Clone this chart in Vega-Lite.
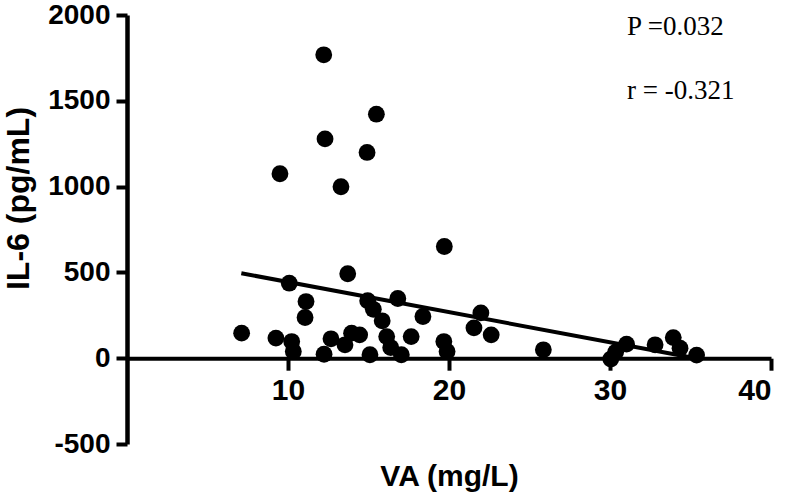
{
  "$schema": "https://vega.github.io/schema/vega-lite/v6.json",
  "width": 644,
  "height": 429,
  "autosize": "none",
  "padding": {"left": 127, "top": 15, "right": 17, "bottom": 48},
  "background": "white",
  "config": {
    "view": {"stroke": null},
    "axis": {"grid": false, "domainColor": "black", "tickColor": "black", "labelColor": "black", "titleColor": "black", "labelFont": "Liberation Sans", "titleFont": "Liberation Sans", "labelFontWeight": "bold", "titleFontWeight": "bold"}
  },
  "datasets": {
    "points": [
      {"va": 7.12, "il6": 146}, {"va": 9.25, "il6": 117}, {"va": 9.5, "il6": 1075},
      {"va": 10.08, "il6": 437}, {"va": 10.23, "il6": 97}, {"va": 10.33, "il6": 39},
      {"va": 11.06, "il6": 237}, {"va": 11.12, "il6": 330}, {"va": 12.22, "il6": 1768},
      {"va": 12.24, "il6": 23}, {"va": 12.3, "il6": 1278}, {"va": 12.67, "il6": 113},
      {"va": 13.29, "il6": 999}, {"va": 13.54, "il6": 78}, {"va": 13.71, "il6": 492},
      {"va": 13.95, "il6": 146}, {"va": 14.45, "il6": 136}, {"va": 14.91, "il6": 1199},
      {"va": 14.95, "il6": 335}, {"va": 15.09, "il6": 20}, {"va": 15.3, "il6": 285},
      {"va": 15.49, "il6": 1422}, {"va": 15.85, "il6": 218}, {"va": 16.13, "il6": 126},
      {"va": 16.38, "il6": 62}, {"va": 16.82, "il6": 348}, {"va": 17.04, "il6": 20},
      {"va": 17.65, "il6": 126}, {"va": 18.38, "il6": 243}, {"va": 19.68, "il6": 97},
      {"va": 19.71, "il6": 651}, {"va": 19.88, "il6": 39}, {"va": 21.55, "il6": 177},
      {"va": 21.98, "il6": 264}, {"va": 22.62, "il6": 136}, {"va": 25.86, "il6": 49},
      {"va": 30.05, "il6": -5}, {"va": 30.35, "il6": 35}, {"va": 31.03, "il6": 82},
      {"va": 32.8, "il6": 78}, {"va": 33.93, "il6": 120}, {"va": 34.35, "il6": 58},
      {"va": 35.38, "il6": 18}
    ],
    "fit": [
      {"va": 7.1, "il6": 495}, {"va": 35.4, "il6": -2}
    ],
    "stats": [
      {"label": "P =0.032", "va": 31.06, "il6": 1886},
      {"label": "r = -0.321", "va": 31.06, "il6": 1513}
    ]
  },
  "layer": [
    {
      "data": {"name": "points"},
      "mark": {"type": "circle", "size": 283, "color": "black", "opacity": 1},
      "encoding": {
        "x": {"field": "va", "type": "quantitative", "scale": {"domain": [0, 40], "nice": false, "zero": false},
          "axis": {"title": "VA (mg/L)", "values": [10, 20, 30, 40], "labelExpr": "datum.value + ''", "offset": -85.8, "domainWidth": 4, "tickWidth": 4, "tickSize": 12, "labelFontSize": 30, "labelPadding": 5, "titleFontSize": 30, "titleY": 127, "titleBaseline": "alphabetic"}},
        "y": {"field": "il6", "type": "quantitative", "scale": {"domain": [-500, 2000], "nice": false, "zero": false},
          "axis": {"title": "IL-6 (pg/mL)", "values": [-500, 0, 500, 1000, 1500, 2000], "labelExpr": "datum.value + ''", "domainWidth": 4.5, "tickWidth": 4, "tickSize": 11, "labelFontSize": 28, "labelPadding": 6, "titleFontSize": 32, "titleX": -109, "titleY": 183, "titleBaseline": "middle"}}
      }
    },
    {
      "data": {"name": "fit"},
      "mark": {"type": "line", "color": "black", "strokeWidth": 4},
      "encoding": {
        "x": {"field": "va", "type": "quantitative"},
        "y": {"field": "il6", "type": "quantitative"}
      }
    },
    {
      "data": {"name": "stats"},
      "mark": {"type": "text", "font": "Liberation Serif", "fontSize": 27, "align": "left", "baseline": "alphabetic", "color": "black"},
      "encoding": {
        "x": {"field": "va", "type": "quantitative"},
        "y": {"field": "il6", "type": "quantitative"},
        "text": {"field": "label"}
      }
    }
  ]
}
